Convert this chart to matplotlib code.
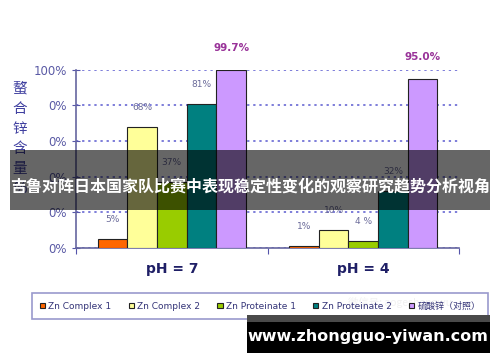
import numpy as np
import matplotlib.pyplot as plt
from matplotlib.patches import Rectangle

plt.rcParams['font.family'] = ['DejaVu Sans', 'Noto Sans CJK SC']

groups = ['pH = 7', 'pH = 4']
series = ['Zn Complex 1', 'Zn Complex 2', 'Zn Proteinate 1', 'Zn Proteinate 2', '硫酸锌（对照）']
colors = ['#FF6600', '#FFFF99', '#99CC00', '#008080', '#CC99FF']
ph7 = [5, 68, 37, 81, 99.7]
ph4 = [1, 10, 4, 32, 95.0]
labels_ph7 = ['5%', '68%', '37%', '81%', '99.7%']
labels_ph4 = ['1%', '10%', '4 %', '32%', '95.0%']
yticks = [0, 20, 40, 60, 80, 100]
ytick_labels = ['0%', '0%', '0%', '0%', '0%', '100%']

fig = plt.figure(figsize=(5, 3.62), dpi=100)
ax = fig.add_axes([0.152, 0.315, 0.766, 0.492])

w = 0.155
x = np.array([0.5, 1.5])
vals = np.array([ph7, ph4])
labs = [labels_ph7, labels_ph4]
handles = []
for i in range(5):
    pos = x + (i - 2) * w
    h = ax.bar(pos, vals[:, i], w, color=colors[i], edgecolor='#222222', linewidth=0.8,
               label=series[i], zorder=3)
    handles.append(h)
    for g in range(2):
        big = i == 4
        ax.text(pos[g], vals[g, i] + (12.5 if big else 11), labs[g][i], ha='center', va='center',
                fontsize=7.5 if big else 6.5, fontweight='bold' if big else 'normal',
                color='#993399' if big else '#6B6B9A', zorder=4)

ax.set_xlim(0, 2)
ax.set_ylim(0, 100)
ax.set_yticks(yticks)
ax.set_yticklabels(ytick_labels)
ax.set_xticks([0, 1, 2])
ax.set_xticklabels([])
ax.tick_params(axis='y', colors='#5555AA', labelsize=8.5, direction='inout', length=6)
ax.tick_params(axis='x', colors='#5555AA', direction='out', length=4)
for t in ax.get_yticklabels():
    t.set_color('#5A5AA5')
ax.yaxis.grid(True, linestyle=(0, (1.5, 2.5)), color='#5A5AD0', linewidth=1.1, zorder=1)
ax.set_axisbelow(True)
for s in ['top', 'right']:
    ax.spines[s].set_visible(False)
ax.spines['left'].set_color('#6666A0')
ax.spines['bottom'].set_color('#6666A0')
ax.spines['left'].set_linewidth(1.2)
ax.spines['bottom'].set_linewidth(1.2)

for g in range(2):
    ax.text(x[g], -12, groups[g], ha='center', va='center', fontsize=10, fontweight='bold',
            color='#1F1F66')

fig.text(0.04, 1 - 139 / 362, '螯\n合\n锌\n含\n量\n%', ha='center', va='center', fontsize=10.5,
         color='#4040A0', family=['Noto Sans CJK SC', 'DejaVu Sans'], linespacing=1.55)

leg = fig.legend(handles=handles, loc='center', bbox_to_anchor=(0.52, 1 - 306 / 362), ncol=5,
                 frameon=True, fancybox=False, handlelength=0.6,
                 handleheight=0.6, handletextpad=0.35, columnspacing=1.9,
                 borderpad=0.9, prop={'family': ['DejaVu Sans', 'Noto Sans CJK SC'], 'size': 6.5})
leg.get_frame().set_edgecolor('#8080C0')
leg.get_frame().set_linewidth(1.2)
for t in leg.get_texts():
    t.set_color('#333377')

# faint watermark
fig.text(0.80, 1 - 303 / 362, '微信号: aogeshengwu', ha='center', va='center', fontsize=7.5,
         color='#aaaaaa', alpha=0.8, family=['Noto Sans CJK SC', 'DejaVu Sans'], zorder=5)

# banner overlay
fig.patches.append(Rectangle((10 / 500, 1 - 210 / 362), 480 / 500, 60 / 362,
                             transform=fig.transFigure, facecolor='black', alpha=0.6,
                             edgecolor='none', zorder=10))
fig.text(0.5, 1 - 187 / 362, '吉鲁对阵日本国家队比赛中表现稳定性变化的观察研究趋势分析视角',
         ha='center', va='center', fontsize=11.5, fontweight='bold', color='white',
         family=['Noto Sans CJK SC', 'DejaVu Sans'], zorder=11)

# bottom site box
fig.patches.append(Rectangle((247 / 500, 1 - 322 / 362), 243 / 500, 7 / 362,
                             transform=fig.transFigure, facecolor='#4a4a4a',
                             edgecolor='none', zorder=10))
fig.patches.append(Rectangle((247 / 500, 1 - 353 / 362), 243 / 500, 31 / 362,
                             transform=fig.transFigure, facecolor='black',
                             edgecolor='none', zorder=10))
fig.text(368 / 500, 1 - 337 / 362, 'www.zhongguo-yiwan.com', ha='center', va='center',
         fontsize=11.5, fontweight='bold', color='white', zorder=11)

fig.savefig('out.png', dpi=100)
